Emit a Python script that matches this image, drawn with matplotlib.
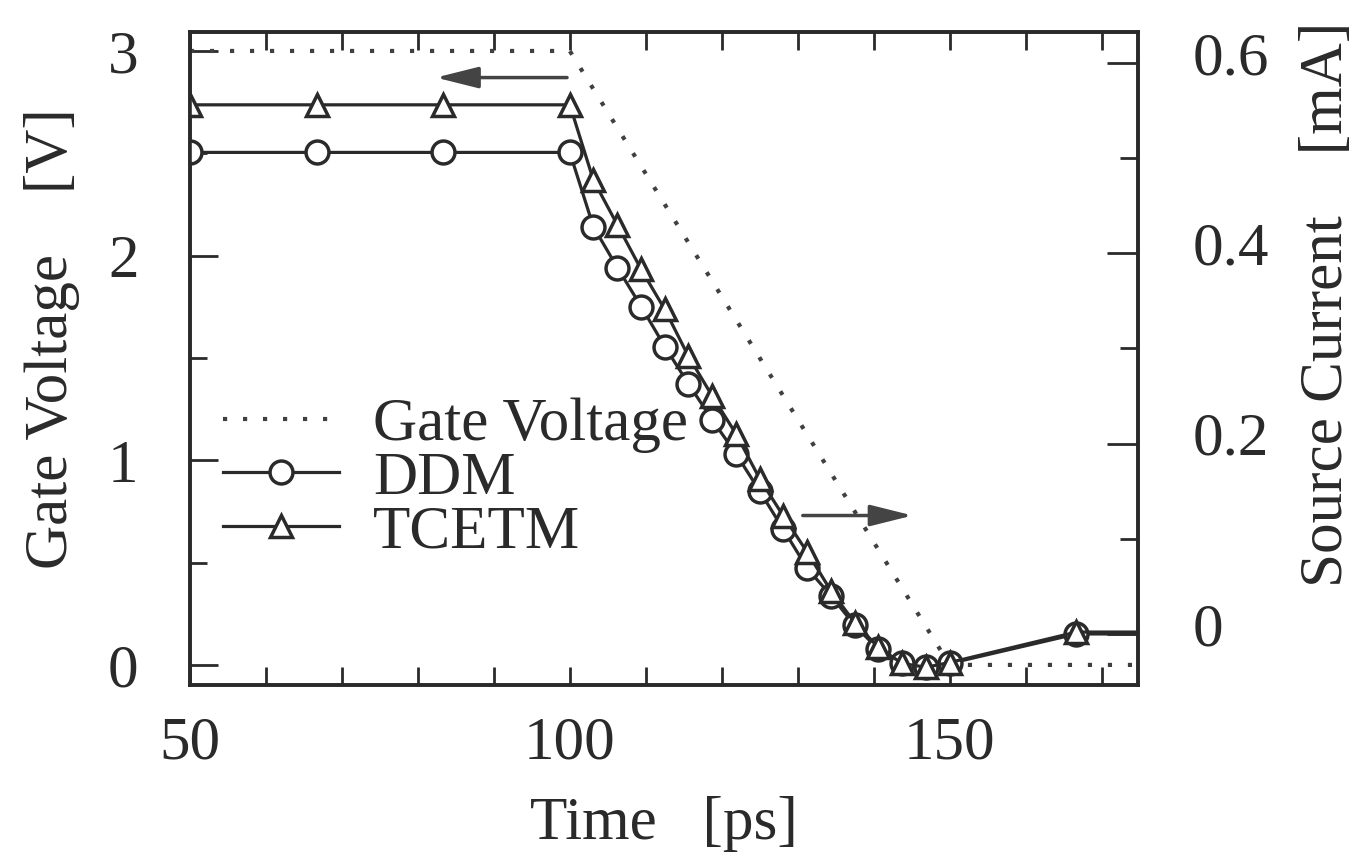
import matplotlib.pyplot as plt
from matplotlib.ticker import MultipleLocator, FixedLocator
from matplotlib.transforms import ScaledTranslation

plt.rcParams['font.family'] = ['Liberation Serif', 'DejaVu Serif']

# gate voltage [V] (left axis)
gate_t = [50, 100, 150, 175]
gate_v = [3.0, 3.0, 0.0, 0.0]

# source current [mA] (right axis)
cur_t = [50, 66.7, 83.3, 100, 103.1, 106.25, 109.4, 112.5, 115.6, 118.75,
         121.9, 125, 128.1, 131.25, 134.4, 137.5, 140.6, 143.75, 146.9, 150,
         166.7, 175]
ddm = [0.506, 0.506, 0.506, 0.506, 0.428, 0.385, 0.344, 0.302, 0.263, 0.225,
       0.189, 0.150, 0.110, 0.069, 0.040, 0.009, -0.016, -0.031, -0.035, -0.031,
       0.0, 0.0]
tcetm = [0.556, 0.556, 0.556, 0.556, 0.477, 0.430, 0.383, 0.341, 0.292, 0.250,
         0.210, 0.163, 0.124, 0.086, 0.045, 0.012, -0.014, -0.031, -0.035, -0.030,
         0.002, 0.002]

ink = '#2a2a2a'
fs = 44

fig = plt.figure(figsize=(13.59, 8.63), dpi=100)
ax = fig.add_axes([0.1398, 0.2063, 0.8374 - 0.1398, 0.963 - 0.2063])
ax2 = ax.twinx()

l_gate, = ax.plot(gate_t, gate_v, color='#404040', lw=3.0,
                  linestyle=(0, (1, 3.8)), label='Gate Voltage')
l_ddm, = ax2.plot(cur_t, ddm, color=ink, lw=2.3, marker='o', ms=16.5,
                  mfc='white', mec=ink, mew=2.5, markevery=slice(0, -1),
                  label='DDM')
l_tc, = ax2.plot(cur_t, tcetm, color=ink, lw=2.3, marker='^', ms=16.5,
                 mfc='white', mec=ink, mew=2.5, markevery=slice(0, -1),
                 label='TCETM')

ax.set_xlim(50, 174.8)
ax.set_ylim(-0.098, 3.093)
ax2.set_ylim(-0.0536, 0.6326)

ax.xaxis.set_major_locator(FixedLocator([50, 100, 150]))
ax.xaxis.set_minor_locator(MultipleLocator(10))
ax.yaxis.set_major_locator(MultipleLocator(1))
ax.yaxis.set_minor_locator(MultipleLocator(0.5))
ax2.yaxis.set_major_locator(MultipleLocator(0.2))
ax2.yaxis.set_minor_locator(MultipleLocator(0.1))

ax.tick_params(axis='x', which='both', direction='in', top=True, length=13,
               width=2, color=ink, labelsize=fs, labelcolor=ink, pad=22)
ax.tick_params(axis='y', which='major', direction='in', length=20, width=2,
               color=ink, labelsize=fs, labelcolor=ink, pad=37)
ax.tick_params(axis='y', which='minor', direction='in', length=12, width=2,
               color=ink)
ax2.tick_params(axis='y', which='major', direction='in', length=22, width=2,
                color=ink, labelsize=fs, labelcolor=ink, pad=39)
ax2.tick_params(axis='y', which='minor', direction='in', length=13, width=2,
                color=ink)

ax2.yaxis.set_major_formatter(plt.FuncFormatter(lambda v, p: '0' if abs(v) < 1e-9 else f'{v:.1f}'))

# right labels sit a bit above their ticks in the original
for lab in ax2.get_yticklabels():
    lab.set_transform(lab.get_transform() + ScaledTranslation(0, 10 / 100, fig.dpi_scale_trans))

for a in (ax, ax2):
    for s in a.spines.values():
        s.set_linewidth(2.6)
        s.set_color(ink)

ax.set_xlabel('Time   [ps]', fontsize=fs, color=ink, labelpad=18)
ax.set_ylabel('Gate Voltage    [V]', fontsize=fs, color=ink)
ax.yaxis.set_label_coords(-0.116, 0.531)
ax2.set_ylabel('Source Current    [mA]', fontsize=fs, color=ink, rotation=90)
ax2.yaxis.set_label_coords(1.17, 0.583)

# arrows pointing to each axis
ax.annotate('', xy=(82, 2.87), xytext=(100, 2.87),
            arrowprops=dict(arrowstyle='-|>,head_length=2.6,head_width=0.65',
                            color='#444444', lw=2.5))
ax.annotate('', xy=(145.5, 0.73), xytext=(130.3, 0.73),
            arrowprops=dict(arrowstyle='-|>,head_length=2.6,head_width=0.65',
                            color='#444444', lw=2.5))

ax2.legend([l_gate, l_ddm, l_tc], ['Gate Voltage', 'DDM', 'TCETM'],
           loc='upper left', bbox_to_anchor=(0.035, 0.44), frameon=False,
           fontsize=fs, handlelength=1.9, handletextpad=0.55,
           labelspacing=-0.04, borderpad=0, borderaxespad=0,
           labelcolor=ink)

fig.savefig('out.png', dpi=100)
